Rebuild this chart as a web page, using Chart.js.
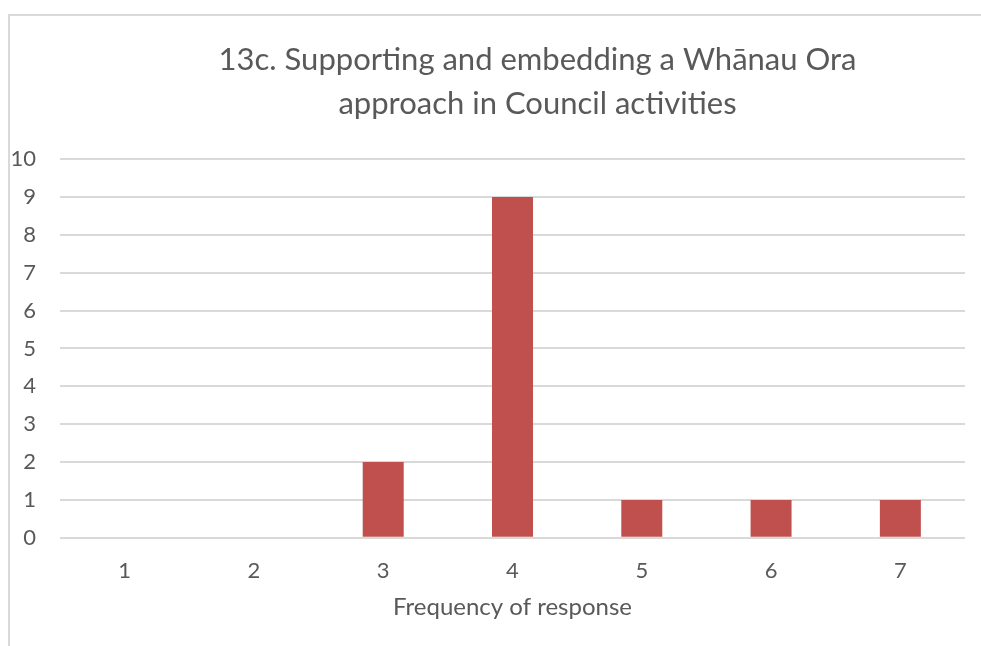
<!DOCTYPE html>
<html lang="en">
<head>
    <meta charset="UTF-8">
    <title>Whānau Ora approach</title>
    <script src="https://cdn.jsdelivr.net/npm/chart.js"></script>
    <style>
        html, body {
            margin: 0;
            padding: 0;
            background: #ffffff;
            overflow: hidden;
        }
        #frame {
            position: absolute;
            left: 8px;
            top: 14px;
            width: 2000px;
            height: 2000px;
            border-left: 2px solid #d9d9d9;
            border-top: 2px solid #d9d9d9;
        }
        #chart-box {
            position: absolute;
            left: 0;
            top: 0;
            width: 981px;
            height: 646px;
        }
    </style>
</head>
<body>
    <div id="frame"></div>
    <div id="chart-box">
        <canvas id="freqChart"></canvas>
    </div>

    <script>
        // Data
        var categories = ['1', '2', '3', '4', '5', '6', '7'];
        var responses = [0, 0, 2, 9, 1, 1, 1];
        var titleLines = ['13c. Supporting and embedding a Whānau Ora', 'approach in Council activities'];
        var xAxisTitle = 'Frequency of response';

        var textGrey = '#595959';
        var gridGrey = '#d9d9d9';
        var fontFamily = 'Lato';

        // Nudge the title right so it sits centred on the whole frame, not the plot
        var shiftTitle = {
            id: 'shiftTitle',
            afterLayout: function (chart) {
                if (chart.titleBlock) {
                    chart.titleBlock.left += 49;
                    chart.titleBlock.right += 49;
                }
            }
        };

        var ctx = document.getElementById('freqChart').getContext('2d');
        var chart = new Chart(ctx, {
            type: 'bar',
            data: {
                labels: categories,
                datasets: [{
                    data: responses,
                    backgroundColor: '#c0504d',
                    borderWidth: 0,
                    categoryPercentage: 1,
                    barPercentage: 0.317
                }]
            },
            options: {
                responsive: true,
                maintainAspectRatio: false,
                animation: false,
                layout: {
                    padding: { left: 12, right: 16, top: 0, bottom: 24 }
                },
                plugins: {
                    legend: { display: false },
                    tooltip: { enabled: false },
                    title: {
                        display: true,
                        text: titleLines,
                        color: textGrey,
                        font: { family: fontFamily, size: 31, weight: 'normal', lineHeight: 1.42 },
                        padding: { top: 38, bottom: 33 }
                    }
                },
                scales: {
                    x: {
                        grid: { display: false, drawTicks: false },
                        border: { display: false },
                        ticks: {
                            color: textGrey,
                            padding: 20,
                            font: { family: fontFamily, size: 22 }
                        },
                        title: {
                            display: true,
                            text: xAxisTitle,
                            color: textGrey,
                            padding: { top: -11, bottom: 0 },
                            font: { family: fontFamily, size: 24 }
                        }
                    },
                    y: {
                        min: 0,
                        max: 10,
                        afterFit: function (scale) {
                            scale.width = 48;
                        },
                        ticks: {
                            stepSize: 1,
                            color: textGrey,
                            padding: 24,
                            font: { family: fontFamily, size: 22 }
                        },
                        grid: {
                            color: gridGrey,
                            lineWidth: 2,
                            drawTicks: false
                        },
                        border: { display: false }
                    }
                }
            },
            plugins: [shiftTitle]
        });
    </script>
</body>
</html>
